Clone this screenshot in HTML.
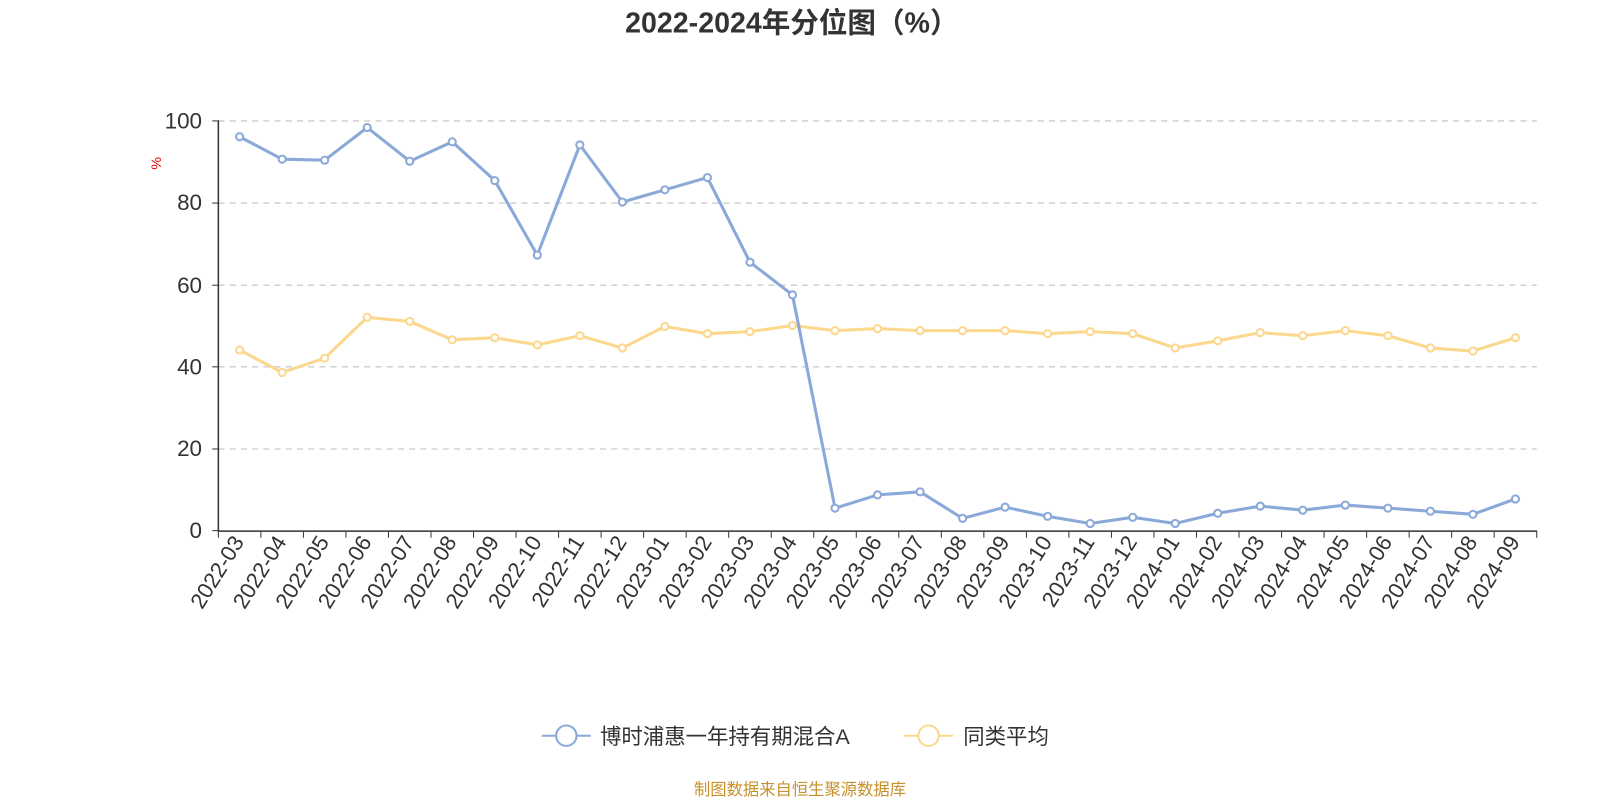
<!DOCTYPE html>
<html><head><meta charset="utf-8"><style>
body{margin:0;background:#fff;}
svg text{font-family:"Liberation Sans","Noto Sans CJK SC",sans-serif;}
</style></head><body>
<svg width="1600" height="800" xmlns="http://www.w3.org/2000/svg">
<g transform="scale(1.0204)">
<text x="776" y="32" text-anchor="middle" font-size="28" font-weight="bold" fill="#333">2022-2024年分位图（%）</text>
<text x="158" y="160" font-size="14" fill="#e00" transform="rotate(-90 158 160)" text-anchor="middle">%</text>
<g stroke="#ccc" stroke-dasharray="6,5" stroke-width="1.3">
<line x1="214" x2="1506" y1="118.5" y2="118.5"/><line x1="214" x2="1506" y1="199" y2="199"/><line x1="214" x2="1506" y1="279.5" y2="279.5"/><line x1="214" x2="1506" y1="359.5" y2="359.5"/><line x1="214" x2="1506" y1="440" y2="440"/>
</g>
<g font-size="22" fill="#333" text-anchor="end">
<text x="198" y="126">100</text><text x="198" y="206">80</text><text x="198" y="287">60</text><text x="198" y="367">40</text><text x="198" y="447">20</text><text x="198" y="527">0</text>
</g>
<line x1="214" y1="118" x2="214" y2="521" stroke="#333" stroke-width="1.5"/>
<line x1="208" y1="118.5" x2="214" y2="118.5" stroke="#333"/><line x1="208" y1="199" x2="214" y2="199" stroke="#333"/><line x1="208" y1="279.5" x2="214" y2="279.5" stroke="#333"/><line x1="208" y1="359.5" x2="214" y2="359.5" stroke="#333"/><line x1="208" y1="440" x2="214" y2="440" stroke="#333"/><line x1="208" y1="520" x2="214" y2="520" stroke="#333"/>
<line x1="214" y1="520.5" x2="1506" y2="520.5" stroke="#333" stroke-width="1.5"/>
<g id="ticks" stroke="#333"></g>
<g id="labels" font-size="21.5" fill="#333"></g>
<polyline id="yl" fill="none" stroke="#fcd88f" stroke-width="3"/>
<polyline id="bl" fill="none" stroke="#8aa9d8" stroke-width="3"/>
<g id="pts"></g>
<line x1="531" y1="721" x2="579" y2="721" stroke="#8aa9d8" stroke-width="2"/>
<circle cx="555" cy="721" r="10" fill="#fff" stroke="#8aa9d8" stroke-width="2"/>
<text x="588" y="729" font-size="21" fill="#333">博时浦惠一年持有期混合A</text>
<line x1="886" y1="721" x2="934" y2="721" stroke="#fcd88f" stroke-width="2"/>
<circle cx="910" cy="721" r="10" fill="#fff" stroke="#fcd88f" stroke-width="2"/>
<text x="944" y="729" font-size="21" fill="#333">同类平均</text>
<text x="784" y="779" text-anchor="middle" font-size="16" fill="#c8902a">制图数据来自恒生聚源数据库</text>
</g>
</svg>
<script>
const ns="http://www.w3.org/2000/svg";
const b=[134,156,157,125,158,139,177,250,142,198,186,174,257,289,498,485,482,508,497,506,513,507,513,503,496,500,495,498,501,504,489];
const y=[343,365,351,311,315,333,331,338,329,341,320,327,325,319,324,322,324,324,324,327,325,327,341,334,326,329,324,329,341,344,331];
const w=1292/31;const lab=[];
for(let yr=2022;yr<=2024;yr++)for(let m=1;m<=12;m++){if(yr==2022&&m<3)continue;if(yr==2024&&m>9)continue;lab.push(yr+"-"+String(m).padStart(2,"0"));}
const xs=b.map((_,i)=>214+w*(i+0.5));
document.getElementById("bl").setAttribute("points",xs.map((x,i)=>x+","+b[i]).join(" "));
document.getElementById("yl").setAttribute("points",xs.map((x,i)=>x+","+y[i]).join(" "));
const pts=document.getElementById("pts"),tk=document.getElementById("ticks"),lb=document.getElementById("labels");
function c(x,yy,col){const e=document.createElementNS(ns,"circle");e.setAttribute("cx",x);e.setAttribute("cy",yy);e.setAttribute("r",3.5);e.setAttribute("fill","#fff");e.setAttribute("stroke",col);e.setAttribute("stroke-width",2);pts.appendChild(e);}
xs.forEach((x,i)=>{c(x,y[i],"#fcd88f");});
xs.forEach((x,i)=>{c(x,b[i],"#8aa9d8");
const t=document.createElementNS(ns,"text");t.setAttribute("x",x+5);t.setAttribute("y",531);t.setAttribute("text-anchor","end");t.setAttribute("transform",`rotate(-58 ${x+5} 531)`);t.textContent=lab[i];lb.appendChild(t);});
for(let k=0;k<=31;k++){const x=214+w*k;const l=document.createElementNS(ns,"line");l.setAttribute("x1",x);l.setAttribute("x2",x);l.setAttribute("y1",520);l.setAttribute("y2",527);tk.appendChild(l);}
</script>
</body></html>
